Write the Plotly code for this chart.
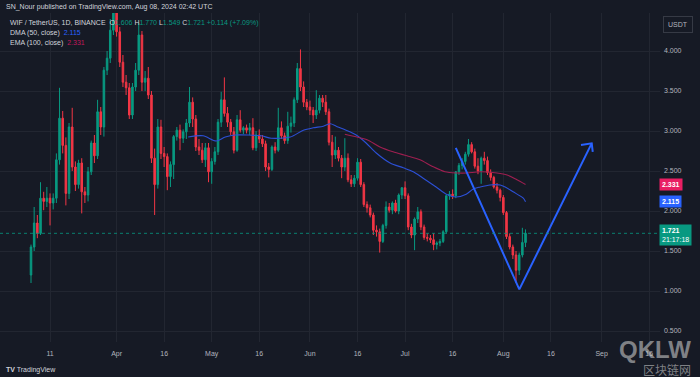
import pandas as pd
import numpy as np
import plotly.graph_objects as go

# ---------------- data ----------------
dates = pd.date_range("2024-03-05", periods=157, freq="D")

open_ = [1.20, 1.55, 1.85, 1.72, 2.16, 2.12, 2.16, 2.10, 2.16, 2.64,
         3.16, 2.82, 2.22, 3.05, 2.55, 2.33, 2.60, 2.24, 2.20, 2.49,
         2.85, 2.69, 3.24, 3.05, 3.76, 3.91, 4.26, 4.60, 4.24, 3.86,
         3.61, 3.54, 3.20, 3.55, 3.76, 4.20, 3.61, 3.66, 3.45, 2.66,
         2.33, 3.05, 2.72, 2.68, 2.43, 2.58, 2.93, 3.01, 2.91, 2.99,
         3.10, 3.36, 3.15, 2.80, 2.76, 2.64, 2.79, 2.49, 2.62, 2.74,
         3.11, 3.39, 3.22, 3.11, 2.99, 2.76, 3.14, 3.01, 3.04, 3.01,
         3.04, 2.79, 2.95, 2.90, 2.84, 2.55, 2.52, 2.80, 2.76, 3.04,
         2.94, 2.88, 3.06, 3.10, 3.39, 3.78, 3.55, 3.36, 3.30, 3.26,
         3.20, 3.26, 3.41, 3.36, 3.24, 2.86, 2.70, 2.76, 2.66, 2.55,
         2.66, 2.39, 2.34, 2.41, 2.61, 2.33, 2.08, 2.04, 1.95, 1.76,
         1.74, 1.62, 1.82, 2.05, 2.01, 2.10, 2.00, 2.20, 2.29, 2.19,
         1.80, 1.70, 1.90, 1.99, 1.80, 1.67, 1.66, 1.64, 1.58, 1.60,
         1.62, 1.74, 2.19, 2.21, 2.19, 2.49, 2.57, 2.62, 2.71, 2.83,
         2.74, 2.56, 2.50, 2.66, 2.63, 2.48, 2.42, 2.30, 2.26, 2.17,
         1.98, 1.68, 1.55, 1.45, 1.26, 1.45, 1.606]
high = [1.58, 2.05, 1.95, 2.36, 2.24, 2.30, 2.22, 2.22, 2.72, 3.54,
        3.25, 2.92, 3.10, 3.29, 2.62, 2.64, 2.66, 2.30, 2.55, 2.88,
        2.95, 3.39, 3.30, 3.80, 4.00, 4.40, 4.85, 4.75, 4.30, 3.95,
        3.70, 3.60, 3.60, 3.85, 4.35, 4.25, 3.75, 3.80, 3.50, 2.78,
        3.15, 3.14, 2.80, 2.72, 2.62, 2.95, 3.05, 3.08, 3.02, 3.15,
        3.55, 3.42, 3.20, 2.90, 2.85, 2.85, 2.85, 2.66, 2.80, 3.15,
        3.49, 3.67, 3.30, 3.15, 3.05, 3.20, 3.26, 3.06, 3.08, 3.10,
        3.16, 3.00, 3.02, 2.95, 2.88, 2.60, 2.82, 2.86, 3.29, 3.12,
        2.98, 3.24, 3.18, 3.42, 3.85, 4.02, 3.62, 3.40, 3.38, 3.30,
        3.51, 3.45, 3.45, 3.45, 3.28, 2.95, 2.93, 2.80, 2.70, 2.91,
        2.72, 2.45, 2.45, 2.66, 2.65, 2.36, 2.12, 2.08, 1.98, 1.82,
        1.78, 1.84, 2.12, 2.10, 2.12, 2.14, 2.22, 2.30, 2.37, 2.22,
        1.84, 1.92, 2.05, 2.02, 1.83, 1.72, 1.70, 1.72, 1.62, 1.65,
        1.76, 2.20, 2.25, 2.27, 2.50, 2.60, 2.66, 2.74, 2.90, 2.86,
        2.78, 2.66, 2.68, 2.74, 2.68, 2.52, 2.44, 2.35, 2.28, 2.20,
        2.00, 1.72, 1.58, 1.50, 1.48, 1.79, 1.770]
low = [1.10, 1.50, 1.66, 1.70, 2.01, 2.05, 1.82, 2.02, 2.10, 2.58,
       2.72, 2.07, 2.15, 2.50, 2.25, 2.28, 1.97, 2.10, 2.12, 2.45,
       2.60, 2.65, 2.95, 2.93, 3.70, 3.85, 4.20, 4.18, 3.80, 3.55,
       3.45, 3.15, 3.15, 3.50, 3.70, 3.50, 3.50, 3.40, 2.60, 1.95,
       2.28, 2.65, 2.55, 2.26, 2.30, 2.40, 2.88, 2.76, 2.85, 2.90,
       3.05, 3.05, 2.75, 2.70, 2.60, 2.55, 2.36, 2.34, 2.58, 2.70,
       3.05, 3.18, 3.05, 2.95, 2.72, 2.74, 2.98, 2.96, 2.97, 2.95,
       2.76, 2.75, 2.85, 2.80, 2.50, 2.42, 2.50, 2.72, 2.74, 2.90,
       2.84, 2.84, 2.98, 3.05, 3.35, 3.50, 3.30, 3.26, 3.20, 3.10,
       3.15, 3.22, 3.30, 3.20, 2.82, 2.55, 2.65, 2.62, 2.41, 2.50,
       2.36, 2.30, 2.30, 2.38, 2.30, 2.05, 1.98, 1.92, 1.70, 1.68,
       1.48, 1.60, 1.78, 1.98, 1.96, 1.98, 1.96, 2.15, 2.15, 1.76,
       1.66, 1.51, 1.85, 1.76, 1.64, 1.62, 1.60, 1.51, 1.52, 1.56,
       1.60, 1.72, 2.14, 2.15, 2.16, 2.45, 2.52, 2.58, 2.68, 2.72,
       2.53, 2.46, 2.34, 2.58, 2.45, 2.38, 2.28, 2.22, 2.12, 1.95,
       1.65, 1.52, 1.40, 1.10, 1.20, 1.42, 1.549]
close = [1.55, 1.85, 1.72, 2.16, 2.12, 2.16, 2.10, 2.16, 2.64, 3.16,
         2.82, 2.22, 3.05, 2.55, 2.33, 2.60, 2.24, 2.20, 2.49, 2.85,
         2.69, 3.24, 3.05, 3.76, 3.91, 4.26, 4.60, 4.24, 3.86, 3.61,
         3.54, 3.20, 3.55, 3.76, 4.20, 3.61, 3.66, 3.45, 2.66, 2.33,
         3.05, 2.72, 2.68, 2.43, 2.58, 2.93, 3.01, 2.91, 2.99, 3.10,
         3.36, 3.15, 2.80, 2.76, 2.64, 2.79, 2.49, 2.62, 2.74, 3.11,
         3.39, 3.22, 3.11, 2.99, 2.76, 3.14, 3.01, 3.04, 3.01, 3.04,
         2.79, 2.95, 2.90, 2.84, 2.55, 2.52, 2.80, 2.76, 3.04, 2.94,
         2.88, 3.06, 3.10, 3.39, 3.78, 3.55, 3.36, 3.30, 3.26, 3.20,
         3.26, 3.41, 3.36, 3.24, 2.86, 2.70, 2.76, 2.66, 2.55, 2.66,
         2.39, 2.34, 2.41, 2.61, 2.33, 2.08, 2.04, 1.95, 1.76, 1.74,
         1.62, 1.82, 2.05, 2.01, 2.10, 2.00, 2.20, 2.29, 2.19, 1.80,
         1.70, 1.90, 1.99, 1.80, 1.67, 1.66, 1.64, 1.58, 1.60, 1.62,
         1.74, 2.19, 2.21, 2.19, 2.49, 2.57, 2.62, 2.71, 2.83, 2.74,
         2.56, 2.50, 2.66, 2.63, 2.48, 2.42, 2.30, 2.26, 2.17, 1.98,
         1.68, 1.55, 1.45, 1.26, 1.45, 1.607, 1.721]

# moving-average lines (date, value)
dma_dates = ["2024-04-23 14:00", "2024-04-28 07:00", "2024-05-02 10:00", "2024-05-05 07:00",
             "2024-05-08 10:00", "2024-05-12 12:00", "2024-05-16 14:00", "2024-05-19 19:00",
             "2024-05-25 19:00", "2024-05-29 22:00", "2024-06-02 00:00", "2024-06-05 05:00",
             "2024-06-07 10:00", "2024-06-09 07:00", "2024-06-12 10:00", "2024-06-15 14:00",
             "2024-06-18 17:00", "2024-06-21 22:00", "2024-06-26 07:00", "2024-06-30 10:00",
             "2024-07-03 14:00", "2024-07-06 17:00", "2024-07-10 19:00", "2024-07-14 00:00",
             "2024-07-17 02:00", "2024-07-20 07:00", "2024-07-22 12:00", "2024-07-24 17:00",
             "2024-07-27 19:00", "2024-07-31 00:00", "2024-08-01 14:00", "2024-08-04 02:00",
             "2024-08-07 07:00", "2024-08-08 00:00"]
dma_values = [2.925, 2.94, 2.875, 2.925, 2.95, 2.95, 2.94, 2.91, 2.925, 3.01, 3.04, 3.06,
              3.09, 3.06, 3.01, 2.95, 2.85, 2.725, 2.60, 2.54, 2.49, 2.41, 2.30, 2.21,
              2.175, 2.21, 2.275, 2.30, 2.325, 2.325, 2.30, 2.24, 2.16, 2.115]
ema_dates = ["2024-06-12 00:00", "2024-06-15 19:00", "2024-06-19 00:00", "2024-06-23 02:00",
             "2024-06-27 05:00", "2024-07-01 14:00", "2024-07-05 17:00", "2024-07-09 12:00",
             "2024-07-13 14:00", "2024-07-17 10:00", "2024-07-20 12:00", "2024-07-24 14:00",
             "2024-07-30 00:00", "2024-08-02 05:00", "2024-08-05 07:00", "2024-08-08 00:00"]
ema_values = [2.96, 2.925, 2.89, 2.80, 2.74, 2.69, 2.64, 2.56, 2.49, 2.475, 2.475, 2.49,
              2.475, 2.45, 2.39, 2.331]

# hand-drawn V projection (date, price)
v_dates = ["2024-07-17 00:00", "2024-08-06 01:00", "2024-08-28 21:00"]
v_prices = [2.79, 1.02, 2.846]
arrow_dates = ["2024-08-25 12:00", "2024-08-28 21:00", "2024-08-29 05:00"]
arrow_prices = [2.825, 2.846, 2.74]

tick_dates = ["2024-03-11", "2024-04-01", "2024-04-16", "2024-05-01", "2024-05-16",
              "2024-06-01", "2024-06-16", "2024-07-01", "2024-07-16", "2024-08-01",
              "2024-08-16", "2024-09-01", "2024-09-16"]
tick_text = ["11", "Apr", "16", "May", "16", "Jun", "16", "Jul", "16", "Aug", "16", "Sep", "16"]
price_ticks = [0.5, 1.0, 1.5, 2.0, 2.5, 3.0, 3.5, 4.0]
price_tick_text = ["0.500", "1.000", "1.500", "2.000", "2.500", "3.000", "3.500", "4.000"]

dma_value_text = "2.115"
ema_value_text = "2.331"
last_time_text = "21:17:18"

# ---------------- style ----------------
BG = "#161A25"
GRID = "#222631"
TXT = "#B2B5BE"
UP = "#089981"
DN = "#F23645"
BLUE = "#2962FF"
PINK = "#E91E63"
FONT = "Liberation Sans, Arial, sans-serif"
FS = 7

W, H = 700, 377
ML, MR, MT, MB = 0, 40, 13, 35
PW, PH = W - ML - MR, H - MT - MB


def px(x):
    return (x - ML) / PW


def py(y):
    return (H - MB - y) / PH


fig = go.Figure()

fig.add_trace(go.Candlestick(
    x=dates, open=open_, high=high, low=low, close=close,
    increasing=dict(line=dict(color=UP, width=1), fillcolor=UP),
    decreasing=dict(line=dict(color=DN, width=1), fillcolor=DN),
    whiskerwidth=0, hoverinfo="skip", name="WIF"))

fig.add_trace(go.Scatter(x=pd.to_datetime(dma_dates), y=dma_values, mode="lines",
                         line=dict(color="#2C50D6", width=1.1, shape="spline", smoothing=0.8),
                         hoverinfo="skip"))
fig.add_trace(go.Scatter(x=pd.to_datetime(ema_dates), y=ema_values, mode="lines",
                         line=dict(color="#9E1F50", width=1.1, shape="spline", smoothing=0.8),
                         hoverinfo="skip"))

# current price dotted line
fig.add_hline(y=close[-1], line=dict(color="rgba(8,153,129,0.8)", width=1, dash="dot"))

# drawing
fig.add_trace(go.Scatter(x=pd.to_datetime(v_dates), y=v_prices, mode="lines",
                         line=dict(color=BLUE, width=2), hoverinfo="skip"))
fig.add_trace(go.Scatter(x=pd.to_datetime(arrow_dates), y=arrow_prices, mode="lines",
                         line=dict(color=BLUE, width=2), hoverinfo="skip"))

base = pd.Timestamp("2024-03-05")
x0 = base + pd.Timedelta(days=-9.78)
x1 = base + pd.Timedelta(days=198.42)

fig.update_layout(
    width=W, height=H,
    margin=dict(l=ML, r=MR, t=MT, b=MB),
    paper_bgcolor=BG, plot_bgcolor=BG,
    showlegend=False,
    hovermode=False,
    font=dict(family=FONT, size=FS, color=TXT),
    xaxis=dict(type="date", range=[x0, x1], rangeslider=dict(visible=False),
               tickvals=pd.to_datetime(tick_dates), ticktext=tick_text,
               showgrid=True, gridcolor=GRID, gridwidth=1, zeroline=False,
               showline=False, ticks="", ticklabelstandoff=6,
               tickfont=dict(size=FS, color=TXT, family=FONT)),
    yaxis=dict(side="right", range=[0.3625, 4.475], tickvals=price_ticks,
               ticktext=price_tick_text, showgrid=True, gridcolor=GRID, gridwidth=1,
               zeroline=False, showline=False, ticks="", ticklabelstandoff=3,
               tickfont=dict(size=FS, color=TXT, family=FONT)),
)

ann = []
# title bar
ann.append(dict(xref="paper", yref="paper", x=px(4), y=py(7), xanchor="left", yanchor="middle",
                text="SN_Nour published on TradingView.com, Aug 08, 2024 02:42 UTC",
                showarrow=False, font=dict(size=FS, color="#D1D4DC", family=FONT)))
# legend lines
g = UP
line1 = ("WIF / TetherUS, 1D, BINANCE&nbsp;&nbsp;O<span style='color:%s'>%s</span>&nbsp;H<span style='color:%s'>%s</span>"
         "&nbsp;L<span style='color:%s'>%s</span>&nbsp;C<span style='color:%s'>%s</span>&nbsp;"
         "<span style='color:%s'>+0.114 (+7.09%%)</span>") % (g, f"{open_[-1]:.3f}", g, f"{high[-1]:.3f}",
                                                               g, f"{low[-1]:.3f}", g, f"{close[-1]:.3f}", g)
ann.append(dict(xref="paper", yref="paper", x=px(8), y=py(23), xanchor="left", yanchor="middle",
                text=line1, showarrow=False, font=dict(size=FS, color="#D1D4DC", family=FONT)))
ann.append(dict(xref="paper", yref="paper", x=px(8), y=py(33), xanchor="left", yanchor="middle",
                text="DMA (50, close)&nbsp;&nbsp;<span style='color:#2962FF'>%s</span>" % dma_value_text,
                showarrow=False, font=dict(size=FS, color="#D1D4DC", family=FONT)))
ann.append(dict(xref="paper", yref="paper", x=px(8), y=py(43), xanchor="left", yanchor="middle",
                text="EMA (100, close)&nbsp;&nbsp;<span style='color:#C2185B'>%s</span>" % ema_value_text,
                showarrow=False, font=dict(size=FS, color="#D1D4DC", family=FONT)))
# price scale labels
ann.append(dict(xref="paper", yref="y", x=px(659), y=float(ema_value_text), xanchor="left", yanchor="middle",
                text="<b>%s</b>" % ema_value_text, showarrow=False, bgcolor=PINK, borderpad=2,
                font=dict(size=FS, color="white", family=FONT)))
ann.append(dict(xref="paper", yref="y", x=px(659), y=float(dma_value_text), xanchor="left", yanchor="middle",
                text="<b>%s</b>" % dma_value_text, showarrow=False, bgcolor=BLUE, borderpad=2,
                font=dict(size=FS, color="white", family=FONT)))
ann.append(dict(xref="paper", yref="y", x=px(659), y=close[-1], xanchor="left", yanchor="middle", yshift=-2,
                text="<b>%.3f</b><br>%s" % (close[-1], last_time_text), showarrow=False, bgcolor=UP,
                borderpad=2, align="left", font=dict(size=FS, color="white", family=FONT)))
ann.append(dict(xref="paper", yref="paper", x=px(678), y=py(24), xanchor="center", yanchor="middle",
                text="USDT", showarrow=False, bgcolor=BG, bordercolor="#363A45", borderwidth=1,
                borderpad=4, font=dict(size=FS, color=TXT, family=FONT)))
# bottom bar logo
ann.append(dict(xref="paper", yref="paper", x=px(4), y=py(370), xanchor="left", yanchor="middle",
                text="<b>TV</b> TradingView", showarrow=False, font=dict(size=FS, color="#D1D4DC", family=FONT)))
# watermark
ann.append(dict(xref="paper", yref="paper", x=px(655), y=py(349), xanchor="center", yanchor="middle",
                text="<b>QKLW</b>", showarrow=False, font=dict(size=24, color="rgba(200,200,200,0.6)", family=FONT)))
ann.append(dict(xref="paper", yref="paper", x=px(667), y=py(369), xanchor="center", yanchor="middle",
                text="区块链网", showarrow=False,
                font=dict(size=12, color="rgba(200,200,200,0.6)", family="Noto Sans CJK SC")))
fig.update_layout(annotations=ann)

fig.write_html("out.html", config={"displayModeBar": False, "staticPlot": True},
               post_script="document.body.style.margin='0';document.body.style.overflow='hidden';")
